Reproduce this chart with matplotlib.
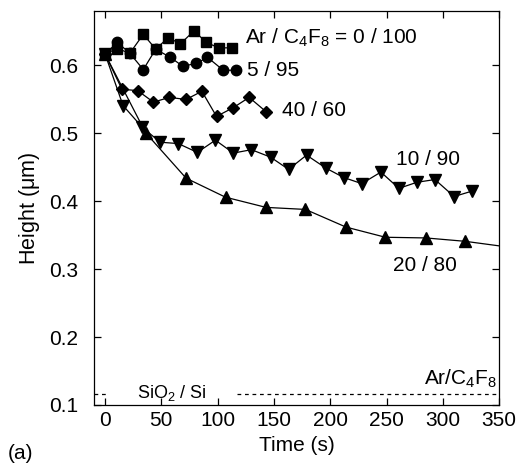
import matplotlib
matplotlib.use('Agg')
import matplotlib.pyplot as plt

plt.rcParams['font.family'] = ['Liberation Sans', 'DejaVu Sans']
plt.rcParams['mathtext.fontset'] = 'custom'
plt.rcParams['mathtext.rm'] = 'Liberation Sans'
plt.rcParams['mathtext.it'] = 'Liberation Sans'

# etch runs, Ar / C4F8 ratio
t_0_100 = [0, 11, 22, 34, 45, 56, 67, 79, 90, 101, 113]
h_0_100 = [0.617, 0.625, 0.618, 0.646, 0.624, 0.641, 0.632, 0.651, 0.634, 0.626, 0.626]

t_5_95 = [0, 11, 22, 34, 45, 58, 69, 81, 91, 105, 116]
h_5_95 = [0.617, 0.634, 0.618, 0.594, 0.624, 0.612, 0.599, 0.603, 0.612, 0.593, 0.593]

t_40_60 = [0, 15, 29, 43, 57, 72, 86, 99, 114, 128, 143]
h_40_60 = [0.617, 0.565, 0.563, 0.546, 0.553, 0.550, 0.562, 0.525, 0.538, 0.553, 0.532]

t_10_90 = [0, 16, 33, 49, 65, 82, 98, 114, 130, 147, 163,
           179, 196, 212, 228, 245, 261, 277, 293, 310, 326]
h_10_90 = [0.617, 0.541, 0.509, 0.487, 0.485, 0.472, 0.490, 0.471, 0.476, 0.465, 0.447,
           0.468, 0.449, 0.435, 0.426, 0.443, 0.419, 0.428, 0.432, 0.407, 0.415]

t_20_80 = [0, 36, 72, 107, 143, 178, 214, 249, 285, 320, 356]
h_20_80 = [0.617, 0.501, 0.434, 0.406, 0.391, 0.388, 0.362, 0.347, 0.346, 0.341, 0.333]

h_interface = 0.116

fig = plt.figure(figsize=(5.21, 4.66), dpi=100)
ax = fig.add_axes([0.180, 0.131, 0.778, 0.845])

kw = dict(color='black', lw=0.9, mfc='black', mec='black')
ax.plot(t_20_80, h_20_80, marker='^', ms=8.5, **kw)
ax.plot(t_10_90, h_10_90, marker='v', ms=8.5, **kw)
ax.plot(t_40_60, h_40_60, marker='D', ms=6.5, **kw)
ax.plot(t_5_95, h_5_95, marker='o', ms=7.5, **kw)
ax.plot(t_0_100, h_0_100, marker='s', ms=7.5, **kw)

# SiO2 / Si interface
ax.hlines(h_interface, -10, 3, colors='black', linestyles=(0, (3, 3)), lw=0.9)
ax.hlines(h_interface, 117, 350, colors='black', linestyles=(0, (3, 3)), lw=0.9)
ax.text(28, h_interface + 0.002, r'SiO$_2$ / Si', fontsize=13, va='center', ha='left')

fs = 15
ax.text(124, 0.640, r'Ar / C$_4$F$_8$ = 0 / 100', fontsize=fs, va='center')
ax.text(126, 0.593, '5 / 95', fontsize=fs, va='center')
ax.text(157, 0.534, '40 / 60', fontsize=fs, va='center')
ax.text(258, 0.461, '10 / 90', fontsize=fs, va='center')
ax.text(256, 0.306, '20 / 80', fontsize=fs, va='center')
ax.text(348, 0.139, r'Ar/C$_4$F$_8$', fontsize=fs, va='center', ha='right')

ax.set_xlim(-10, 350)
ax.set_ylim(0.1, 0.68)
ax.set_xticks(range(0, 351, 50))
ax.set_yticks([0.1, 0.2, 0.3, 0.4, 0.5, 0.6])
ax.tick_params(direction='in', top=True, right=True, length=5, width=0.9,
               labelsize=15, pad=4)
ax.tick_params(axis='y', pad=11)
for s in ax.spines.values():
    s.set_linewidth(0.9)

ax.set_xlabel('Time (s)', fontsize=15, labelpad=5)
ax.set_ylabel(r'Height ($\mu$m)', fontsize=15.5, labelpad=5)
fig.text(0.015, 0.015, '(a)', fontsize=15)

fig.savefig('out.png', dpi=100)
